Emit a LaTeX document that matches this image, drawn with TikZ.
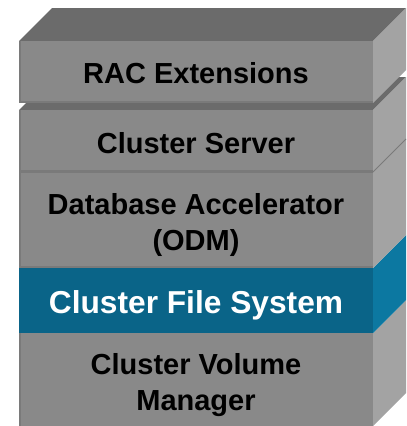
\documentclass[tikz,border=0pt]{standalone}
\usepackage{fontspec}
\setmainfont{Liberation Sans}
\definecolor{frontc}{HTML}{898989}
\definecolor{topc}{HTML}{6B6B6B}
\definecolor{sidec}{HTML}{A3A3A3}
\definecolor{edgec}{HTML}{7A7A7A}
\definecolor{bfront}{HTML}{0A6488}
\definecolor{bside}{HTML}{0C78A1}
\begin{document}
\begin{tikzpicture}[x=1pt,y=-1pt,
  lbl/.style={font=\bfseries\fontsize{29}{36}\selectfont, align=center, text=black, inner sep=0pt},
  wlbl/.style={font=\bfseries\fontsize{31.7}{38}\selectfont, align=center, text=white, inner sep=0pt},
  frontface/.style={fill=frontc},
  sideface/.style={fill=sidec},
  topface/.style={fill=topc},
  strip/.style={fill=edgec}]
\useasboundingbox (0,0) rectangle (407,426);
% Cluster Volume Manager
\path[sideface] (373,333) -- (406,300) -- (406,393) -- (373,426) -- cycle;
\path[frontface] (19,333) rectangle (373,426);
\path[strip] (19,333) rectangle (21,426);
% Cluster File System
\path[fill=bside] (373,268) -- (406,235) -- (406,300) -- (373,333) -- cycle;
\path[fill=bfront] (19,268) rectangle (373,333);
% Database Accelerator
\path[sideface] (373,172) -- (406,139) -- (406,235) -- (373,268) -- cycle;
\path[frontface] (19,172) rectangle (373,268);
\path[strip] (19,265.5) rectangle (373,268);
\path[strip] (19,172) rectangle (21,268);
% Cluster Server
\path[topface] (19,110) -- (52,77) -- (406,77) -- (373,110) -- cycle;
\path[sideface] (373,110) -- (406,77) -- (406,139) -- (373,172) -- cycle;
\path[frontface] (19,110) rectangle (373,172);
\path[strip] (19,169.5) rectangle (373,172.5);
\path[strip] (19,110) rectangle (21,172);
\draw[edgec, line width=0.8pt] (373,172) -- (406,139);
% RAC Extensions
\path[topface] (19,41) -- (52,8) -- (406,8) -- (373,41) -- cycle;
\path[sideface] (373,41) -- (406,8) -- (406,70) -- (373,103) -- cycle;
\path[frontface] (19,41) rectangle (373,103);
\path[strip] (19,100.5) rectangle (373,103);
\path[strip] (19,41) rectangle (21,103);
% labels
\node[lbl] (rac) at (196,73) {RAC Extensions};
\node[lbl] (cs) at (196,143) {Cluster Server};
\node[lbl] (db) at (196,224.6) {Database Accelerator\\(ODM)};
\node[wlbl] (cfs) at (196,305) {Cluster File System};
\node[lbl] (cvm) at (196,384.7) {Cluster Volume\\Manager};
\end{tikzpicture}
\end{document}
